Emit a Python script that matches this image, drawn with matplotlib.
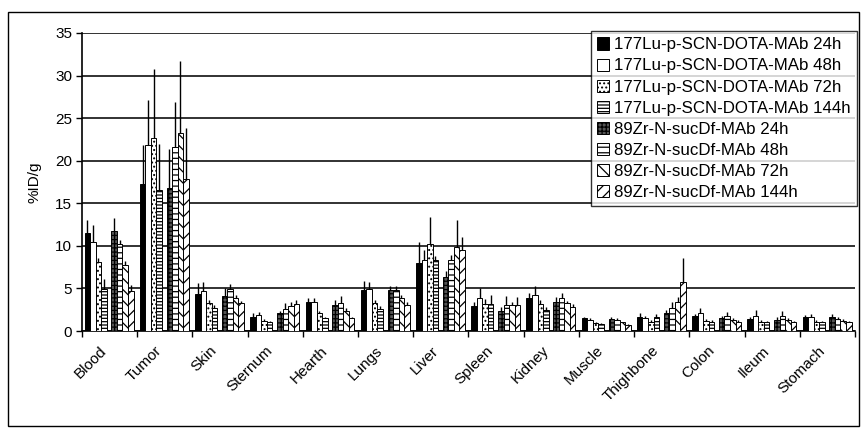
import matplotlib
matplotlib.use("Agg")
import matplotlib.pyplot as plt
import numpy as np
from matplotlib.patches import Rectangle

plt.rcParams['font.family'] = ['Liberation Sans', 'DejaVu Sans']
plt.rcParams['hatch.linewidth'] = 0.9

organs = ['Blood', 'Tumor', 'Skin', 'Sternum', 'Hearth', 'Lungs', 'Liver',
          'Spleen', 'Kidney', 'Muscle', 'Thighbone', 'Colon', 'Ileum', 'Stomach']

series_labels = ['177Lu-p-SCN-DOTA-MAb 24h', '177Lu-p-SCN-DOTA-MAb 48h',
                 '177Lu-p-SCN-DOTA-MAb 72h', '177Lu-p-SCN-DOTA-MAb 144h',
                 '89Zr-N-sucDf-MAb 24h', '89Zr-N-sucDf-MAb 48h',
                 '89Zr-N-sucDf-MAb 72h', '89Zr-N-sucDf-MAb 144h']

# mean uptake (%ID/g)
lu_24h = [11.5, 17.3, 4.3, 1.7, 3.4, 4.8, 8.0, 2.9, 3.9, 1.5, 1.6, 1.75, 1.4, 1.6]
lu_48h = [10.4, 21.9, 4.7, 1.9, 3.4, 4.9, 8.3, 3.9, 4.2, 1.3, 1.5, 2.1, 1.75, 1.6]
lu_72h = [8.1, 22.7, 3.3, 1.2, 2.1, 3.3, 10.2, 3.2, 3.2, 0.9, 1.1, 1.2, 1.1, 1.1]
lu_144h = [4.9, 16.6, 2.7, 1.0, 1.5, 2.6, 8.3, 3.2, 2.5, 0.8, 1.6, 1.1, 1.0, 1.0]
zr_24h = [11.8, 16.8, 4.15, 2.1, 3.05, 4.8, 6.4, 2.4, 3.45, 1.4, 2.15, 1.5, 1.35, 1.6]
zr_48h = [10.2, 21.6, 4.9, 2.6, 3.25, 4.8, 8.3, 3.05, 3.85, 1.35, 2.65, 1.75, 1.75, 1.4]
zr_72h = [7.8, 23.2, 3.85, 2.95, 2.35, 3.85, 9.9, 3.05, 3.25, 1.0, 3.45, 1.3, 1.3, 1.2]
zr_144h = [4.7, 17.9, 3.25, 3.15, 1.5, 3.05, 9.5, 3.05, 2.85, 0.7, 5.8, 1.1, 1.0, 1.0]

# standard deviations (upper whiskers)
lu_24h_sd = [1.5, 4.6, 1.3, 0.4, 0.5, 1.1, 2.5, 0.5, 0.6, 0.2, 0.5, 0.3, 0.3, 0.3]
lu_48h_sd = [2.1, 5.2, 1.0, 0.3, 0.5, 0.9, 1.2, 1.2, 1.1, 0.2, 0.3, 0.55, 0.7, 0.4]
lu_72h_sd = [0.5, 8.1, 0.4, 0.2, 0.3, 0.4, 3.2, 0.6, 0.4, 0.1, 0.2, 0.2, 0.2, 0.2]
lu_144h_sd = [1.2, 5.4, 0.3, 0.2, 0.2, 0.3, 0.5, 1.0, 0.3, 0.1, 0.4, 0.2, 0.2, 0.2]
zr_24h_sd = [1.5, 4.6, 0.95, 0.3, 0.65, 0.5, 0.6, 0.4, 0.5, 0.2, 0.3, 0.3, 0.3, 0.4]
zr_48h_sd = [0.5, 5.3, 0.6, 0.65, 0.85, 0.5, 0.6, 1.05, 0.65, 0.2, 0.8, 0.5, 0.6, 0.3]
zr_72h_sd = [0.4, 8.5, 0.4, 0.5, 0.3, 0.4, 3.1, 0.4, 0.3, 0.1, 0.5, 0.2, 0.2, 0.2]
zr_144h_sd = [0.7, 5.9, 0.3, 0.45, 0.2, 0.3, 1.5, 0.95, 0.3, 0.1, 2.75, 0.2, 0.2, 0.2]

means = [lu_24h, lu_48h, lu_72h, lu_144h, zr_24h, zr_48h, zr_72h, zr_144h]
sds = [lu_24h_sd, lu_48h_sd, lu_72h_sd, lu_144h_sd,
       zr_24h_sd, zr_48h_sd, zr_72h_sd, zr_144h_sd]

styles = [
    dict(facecolor='black', hatch=None),
    dict(facecolor='white', hatch=None),
    dict(facecolor='white', hatch='....'),
    dict(facecolor='white', hatch='-----'),
    dict(facecolor='#555555', hatch='++++'),
    dict(facecolor='white', hatch='---'),
    dict(facecolor='white', hatch='\\\\\\'),
    dict(facecolor='white', hatch='///'),
]

fig = plt.figure(figsize=(8.62, 4.28), dpi=100)
ax = fig.add_axes([0.095, 0.2266, 0.897, 0.6964])

x = np.arange(len(organs))
width = 0.1
offsets = [0.05, 0.15, 0.25, 0.35, 0.535, 0.635, 0.735, 0.835]

for k in range(8):
    pos = x + offsets[k] + width / 2
    ax.bar(pos, means[k], width=width, label=series_labels[k],
           edgecolor='black', linewidth=0.7, zorder=3, **styles[k])
    ax.errorbar(pos, means[k], yerr=[np.zeros(len(organs)), sds[k]],
                fmt='none', ecolor='black', elinewidth=1.0, capsize=0, zorder=4)

ax.set_xlim(0, len(organs))
ax.set_ylim(0, 35)
ax.set_yticks(np.arange(0, 36, 5))
ax.yaxis.grid(True, color='#222222', linewidth=1.3, zorder=0)
ax.set_axisbelow(True)

ax.set_xticks(np.arange(0, len(organs) + 1))
ax.set_xticklabels([])
ax.set_xticks(x + 0.32, minor=True)
ax.set_xticklabels(organs, minor=True, rotation=45, ha='right',
                   rotation_mode='anchor', fontsize=11)
ax.tick_params(axis='x', which='minor', length=0, pad=9)
ax.tick_params(axis='x', which='major', length=4, width=1, direction='out')
ax.tick_params(axis='y', length=4, width=1, labelsize=11, pad=3)

for side in ['top', 'right']:
    ax.spines[side].set_visible(False)
for side in ['left', 'bottom']:
    ax.spines[side].set_linewidth(1.2)

ax.set_ylabel('%ID/g', fontsize=11, labelpad=10)

leg = ax.legend(loc='upper right', bbox_to_anchor=(1.002, 1.005), fontsize=12.2,
                frameon=True, fancybox=False, edgecolor='black',
                handlelength=0.72, handleheight=0.72, handletextpad=0.3,
                labelspacing=0.36, borderpad=0.35, borderaxespad=0)
leg.get_frame().set_linewidth(1.0)
leg.set_zorder(10)

fig.patches.append(Rectangle((8 / 862, 2 / 428), 851 / 862, 414 / 428,
                             transform=fig.transFigure, fill=False,
                             edgecolor='black', linewidth=1.0))

fig.savefig('out.png', dpi=100)
